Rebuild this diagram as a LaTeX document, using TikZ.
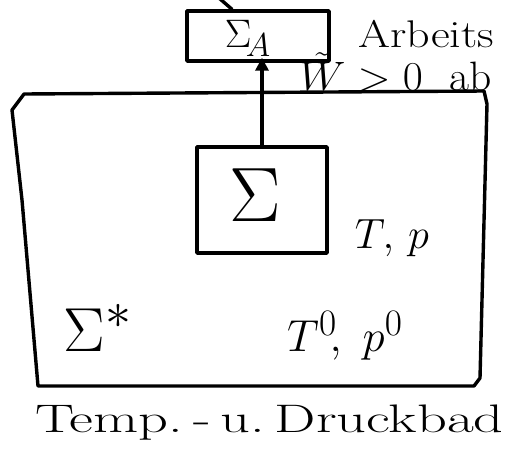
\documentclass[tikz,border=0pt]{standalone}
\usetikzlibrary{arrows.meta}
\begin{document}
\begin{tikzpicture}[x=1pt,y=-1pt,
  stroke/.style={line width=3.4pt,line cap=round,line join=round},
  box/.style={draw,stroke,inner sep=0pt},
  lbl/.style={inner sep=0pt,font=\Huge},
  arr/.style={stroke,-{Triangle[length=13pt,width=13pt]}}]
\useasboundingbox (0,0) rectangle (506,455);
% work reservoir box
\node[box,minimum width=142pt,minimum height=50pt] (top) at (258,36) {};
\coordinate (tstroke) at (219,-2);
\draw[stroke] (tstroke) -- (top.north west -| 232,0);
\node[lbl,scale=1.6] (sa) at (248,38) {$\Sigma_{\!A}$};
\node[lbl,anchor=base west,xscale=1.85,yscale=1.55] (arb) at (358,47) {Arbeits};
\node[lbl,anchor=base west,xscale=1.75,yscale=1.65] (w) at (299,90) {$\tilde W>0$\ \ ab};
% bath
\coordinate (b1) at (12,110);
\coordinate (b2) at (24,94);
\coordinate (b3) at (484,91);
\coordinate (b4) at (487,104);
\coordinate (b5) at (480,378);
\coordinate (b6) at (474,386);
\coordinate (b7) at (38,386);
\coordinate (b8) at (22,200);
\draw[stroke] (b2) -- (b3) -- (b4) -- (b5) -- (b6) -- (b7) -- (b8) -- (b1) -- cycle;
% system box
\node[box,minimum width=130pt,minimum height=106pt] (sys) at (262,200) {};
\draw[arr] (sys.north) -- ([yshift=5pt]sys.north |- top.south);
\node[lbl,scale=3.1] (sig) at (255,195) {$\Sigma$};
\node[lbl,scale=1.7] (tp) at (392,238) {$T,\,p$};
\node[lbl,scale=2.5] (sigs) at (98,328) {$\Sigma^{*}$};
\node[lbl,scale=1.8] (tp0) at (345,336) {$T^{0}\!,\ p^{0}$};
\node[lbl,anchor=base west,xscale=2.35,yscale=1.6] (bad) at (35,432) {Temp.\,-\,u.\,Druckbad};
\end{tikzpicture}
\end{document}
